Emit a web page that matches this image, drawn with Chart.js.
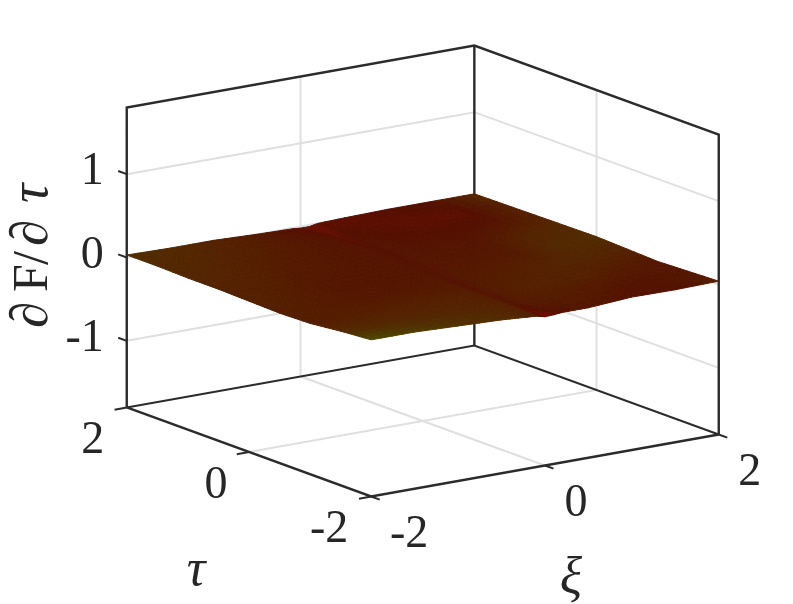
<!DOCTYPE html>
<html>
<head>
<meta charset="utf-8">
<title>dF/dtau surface</title>
<script src="https://cdn.jsdelivr.net/npm/chart.js@4"></script>
<style>
  html, body { margin: 0; padding: 0; background: #fff; }
  #chart { display: block; }
</style>
</head>
<body>
<canvas id="chart" width="793" height="604"></canvas>
<script>
// surface grid
const xiValues = [-2, -1.5, -1, -0.5, -0.1, 0, 0.1, 0.2, 0.5, 1, 1.5, 2];
const tauValues = [2, 1.5, 1, 0.5, 0, -0.5, -1, -1.5, -2];

// dF/dtau at each (tau row, xi column)
const surfaceZ = [
  [0.03, 0.02, 0.02, 0.00, -0.01, -0.02, -0.02, 0.00, 0.01, 0.02, 0.02, 0.02],
  [0.03, 0.02, 0.02, 0.01, 0.00, -0.01, -0.01, 0.00, 0.01, 0.02, 0.02, 0.025],
  [0.02, 0.02, 0.02, 0.01, 0.01, 0.00, 0.00, 0.01, 0.01, 0.02, 0.03, 0.03],
  [0.02, 0.02, 0.01, 0.01, 0.01, 0.00, 0.00, 0.01, 0.01, 0.02, 0.03, 0.035],
  [0.01, 0.01, 0.01, 0.01, 0.01, 0.00, 0.00, 0.01, 0.01, 0.02, 0.03, 0.04],
  [0.00, 0.00, 0.01, 0.01, 0.01, 0.00, 0.00, 0.00, 0.01, 0.02, 0.02, 0.025],
  [0.01, 0.02, 0.02, 0.02, 0.01, 0.00, 0.00, 0.00, 0.00, 0.02, 0.01, 0.01],
  [0.05, 0.05, 0.04, 0.03, 0.01, 0.00, -0.01, 0.00, 0.00, 0.02, 0.02, 0.025],
  [0.08, 0.08, 0.06, 0.04, 0.01, -0.015, -0.01, 0.00, 0.00, 0.035, 0.03, 0.04]
];

// colour value of the surface (0 red ... 10 olive)
const surfaceC = [
  [6.5, 6, 5, 3.5, 2, 1.5, 0.6, 1.5, 1.5, 2, 2.5, 6],
  [6, 5.5, 4.5, 3.5, 2.8, 2.6, 1.4, 2.2, 1.8, 1.5, 1.5, 5],
  [5.5, 5, 4, 3.2, 2.8, 2.8, 1.8, 2.8, 2.2, 2, 2.5, 5],
  [5, 4.5, 3.5, 3, 2.8, 2.8, 2, 3, 2.8, 3, 5, 6],
  [5, 4, 3, 2.8, 3, 2.4, 2.6, 3.2, 3.2, 3.5, 6, 6.5],
  [4.5, 3.8, 3.2, 3.2, 3.4, 2.4, 3.2, 3.6, 4, 5, 5.5, 5],
  [4, 4.2, 4.5, 4.6, 4.4, 2.6, 3.8, 4.2, 4.8, 5, 4, 3],
  [6, 5.8, 5.6, 5.4, 4.8, 2.4, 3.6, 3.8, 4, 3.2, 2.5, 3.2],
  [10, 8.5, 7.5, 6.5, 4.5, 0, 1.2, 2, 3, 2.5, 2, 4.5]
];

const zTicks = [1, 0, -1];
const zTickLabels = ['1', '0', '-1'];
const tauTicks = [2, 0, -2];
const tauTickLabels = ['2', '0', '-2'];
const xiTicks = [-2, 0, 2];
const xiTickLabels = ['-2', '0', '2'];
const gridXi = [0];
const gridTau = [0];

const zMin = -1.8, zMax = 1.8, boxMin = -2, boxMax = 2;
const serif = '"Liberation Serif", "Times New Roman", serif';

// view of the box: data units -> picture units
function project(xi, tau, z) {
  return {
    x: 422.75 + 86.9 * xi - 61.1 * tau,
    y: 271 - 15.5 * xi - 22.25 * tau - 83.33 * z
  };
}

const stops = [
  [0, 122, 14, 0],
  [2, 84, 15, 0],
  [5, 84, 34, 0],
  [7, 80, 48, 0],
  [10, 78, 74, 0]
];

function shadeColor(c) {
  for (let i = 1; i < stops.length; i++) {
    if (c <= stops[i][0]) {
      const a = stops[i - 1], b = stops[i];
      const t = (c - a[0]) / (b[0] - a[0]);
      return `rgb(${a[1] + (b[1] - a[1]) * t}, ${a[2] + (b[2] - a[2]) * t}, 0)`;
    }
  }
  return 'rgb(78, 74, 0)';
}

const datasets = [];

function addLine(points, color, width) {
  datasets.push({
    data: points,
    showLine: true,
    borderColor: color,
    borderWidth: width,
    pointRadius: 0,
    fill: false,
    tension: 0,
    order: 10 - datasets.length * 0.001
  });
}

// gridlines on the back walls and the floor
const gridColor = '#dfdfdf';
zTicks.forEach(z => {
  addLine([project(boxMin, boxMax, z), project(boxMax, boxMax, z), project(boxMax, boxMin, z)], gridColor, 2);
});
gridXi.forEach(xi => {
  addLine([project(xi, boxMin, zMin), project(xi, boxMax, zMin), project(xi, boxMax, zMax)], gridColor, 2);
});
gridTau.forEach(tau => {
  addLine([project(boxMin, tau, zMin), project(boxMax, tau, zMin), project(boxMax, tau, zMax)], gridColor, 2);
});

// box edges
const boxColor = '#2b2b2b';
addLine([project(boxMin, boxMax, zMin), project(boxMin, boxMax, zMax), project(boxMax, boxMax, zMax),
  project(boxMax, boxMin, zMax), project(boxMax, boxMin, zMin)], boxColor, 2.4);
addLine([project(boxMax, boxMax, zMax), project(boxMax, boxMax, zMin)], boxColor, 2.4);
addLine([project(boxMin, boxMax, zMin), project(boxMax, boxMax, zMin), project(boxMax, boxMin, zMin)], boxColor, 2);
addLine([project(boxMin, boxMax, zMin), project(boxMin, boxMin, zMin), project(boxMax, boxMin, zMin)], boxColor, 2.4);

// tick marks
zTicks.forEach(z => addLine([project(boxMin, boxMax, z), project(boxMin, boxMax + 0.14, z)], boxColor, 2));
tauTicks.forEach(tau => addLine([project(boxMin, tau, zMin), project(boxMin - 0.14, tau, zMin)], boxColor, 2));
xiTicks.forEach(xi => addLine([project(xi, boxMin, zMin), project(xi, boxMin - 0.14, zMin)], boxColor, 2));

// surface: each read cell is painted as small patches, like interpolated shading in a surf plot
const shadeSteps = 4;
function mix(grid, r, c, u, v) {
  return (grid[r][c] * (1 - u) + grid[r][c + 1] * u) * (1 - v) +
    (grid[r + 1][c] * (1 - u) + grid[r + 1][c + 1] * u) * v;
}
function cellPoint(r, c, u, v) {
  const xi = xiValues[c] + (xiValues[c + 1] - xiValues[c]) * u;
  const tau = tauValues[r] + (tauValues[r + 1] - tauValues[r]) * v;
  return project(xi, tau, mix(surfaceZ, r, c, u, v));
}
for (let r = 0; r < tauValues.length - 1; r++) {
  for (let c = 0; c < xiValues.length - 1; c++) {
    for (let a = 0; a < shadeSteps; a++) {
      for (let b = 0; b < shadeSteps; b++) {
        const u0 = a / shadeSteps, u1 = (a + 1) / shadeSteps;
        const v0 = b / shadeSteps, v1 = (b + 1) / shadeSteps;
        const p0 = cellPoint(r, c, u0, v0);
        const color = shadeColor(mix(surfaceC, r, c, (u0 + u1) / 2, (v0 + v1) / 2));
        datasets.push({
          data: [p0, cellPoint(r, c, u1, v0), cellPoint(r, c, u1, v1), cellPoint(r, c, u0, v1), p0],
          showLine: true,
          borderColor: color,
          backgroundColor: color,
          borderWidth: 1,
          pointRadius: 0,
          fill: 'shape',
          tension: 0,
          order: 5
        });
      }
    }
  }
}

const tauLabelDx = [-34, -33, -42];
const xiLabelDx = [38, 31, 31];

// tick labels and axis titles, placed next to the projected axes
const boxText = {
  id: 'boxText',
  afterDraw(chart) {
    const ctx = chart.ctx;
    const sx = chart.scales.x, sy = chart.scales.y;
    const at = p => ({ x: sx.getPixelForValue(p.x), y: sy.getPixelForValue(p.y) });
    ctx.save();
    ctx.fillStyle = '#262626';
    ctx.textBaseline = 'alphabetic';
    ctx.font = `46px ${serif}`;

    ctx.textAlign = 'right';
    zTicks.forEach((z, i) => {
      const p = at(project(boxMin, boxMax, z));
      ctx.fillText(zTickLabels[i], p.x - 23, p.y + 10);
    });
    ctx.textAlign = 'center';
    tauTicks.forEach((tau, i) => {
      const p = at(project(boxMin, tau, zMin));
      ctx.fillText(tauTickLabels[i], p.x + tauLabelDx[i], p.y + 46);
    });
    xiTicks.forEach((xi, i) => {
      const p = at(project(xi, boxMin, zMin));
      ctx.fillText(xiTickLabels[i], p.x + xiLabelDx[i], p.y + 50.5);
    });

    ctx.font = `italic 52px ${serif}`;
    ctx.fillText('\u03c4', 196, 585);
    ctx.fillText('\u03be', 571, 593);

    // rotated z label
    ctx.translate(47, 328);
    ctx.rotate(-Math.PI / 2);
    ctx.textAlign = 'left';
    ctx.font = `53px ${serif}`;
    ctx.fillText('\u2202', 0, 0);
    ctx.fillText('\u2202', 82, 0);
    ctx.font = `50px ${serif}`;
    ctx.fillText('F', 36, 0);
    ctx.fillText('/', 63, 0);
    ctx.font = `italic 54px ${serif}`;
    ctx.fillText('\u03c4', 125, 0);
    ctx.restore();
  }
};

new Chart(document.getElementById('chart'), {
  type: 'scatter',
  data: { datasets },
  options: {
    responsive: false,
    animation: false,
    layout: { padding: 0 },
    scales: {
      x: { type: 'linear', min: 0, max: 793, display: false },
      y: { type: 'linear', min: 0, max: 604, reverse: true, display: false }
    },
    plugins: { legend: { display: false }, tooltip: { enabled: false } }
  },
  plugins: [boxText]
});
</script>
</body>
</html>
